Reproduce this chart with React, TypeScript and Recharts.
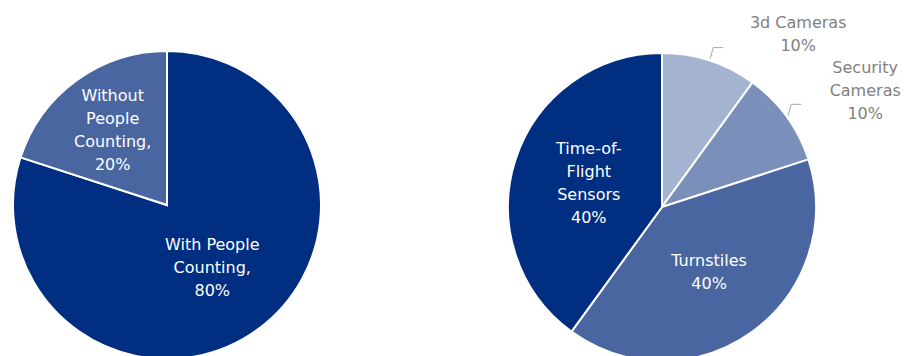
import React from 'react';
import { PieChart, Pie, Cell } from 'recharts';

// left pie: share of sites with / without people counting
const adoptionNames = ['With People Counting', 'Without People Counting'];
const adoptionValues = [80, 20];
const adoptionLines = [['With People', 'Counting,'], ['Without', 'People', 'Counting,']];
const adoptionColors = ['#002E80', '#4A66A0'];

// right pie: counting technology split
const techNames = ['3d Cameras', 'Security Cameras', 'Turnstiles', 'Time-of-Flight Sensors'];
const techValues = [10, 10, 40, 40];
const techLines = [['3d Cameras'], ['Security', 'Cameras'], ['Turnstiles'], ['Time-of-', 'Flight', 'Sensors']];
const techColors = ['#A4B3D0', '#7A8FBA', '#4A66A0', '#002E80'];

const adoptionData = adoptionNames.map((name, i) => ({ name, value: adoptionValues[i], lines: [...adoptionLines[i], `${adoptionValues[i]}%`] }));
const techData = techNames.map((name, i) => ({ name, value: techValues[i], lines: [...techLines[i], `${techValues[i]}%`] }));

// label placement: inside slices use a radius ratio, outside ones get an elbow leader + offset
const labelPlacement: Record<string, { r?: number; dx?: number; dy?: number }> = {
  'With People Counting': { r: 0.5 },
  'Without People Counting': { r: 0.6 },
  'Turnstiles': { r: 0.52 },
  'Time-of-Flight Sensors': { r: 0.5 },
  '3d Cameras': { dx: 88, dy: -25 },
  'Security Cameras': { dx: 77, dy: -25 },
};

const RADIAN = Math.PI / 180;
const FONT = '"DejaVu Sans", Verdana, sans-serif';
const LINE_H = 23;

const renderLabel = (props: any) => {
  const { cx, cy, midAngle, outerRadius, payload, name } = props;
  const key = payload?.name ?? name;
  const lines: string[] = payload?.lines ?? [];
  const place = labelPlacement[key] || { r: 0.5 };
  const cos = Math.cos(-midAngle * RADIAN);
  const sin = Math.sin(-midAngle * RADIAN);

  if (place.r !== undefined) {
    const x = cx + outerRadius * place.r * cos;
    const y = cy + outerRadius * place.r * sin;
    const top = y - ((lines.length - 1) * LINE_H) / 2;
    return (
      <g>
        {lines.map((t, i) => (
          <text key={i} x={x} y={top + i * LINE_H} fill="#fff" textAnchor="middle" dominantBaseline="central" fontSize={16} fontFamily={FONT}>
            {t}
          </text>
        ))}
      </g>
    );
  }

  const x0 = cx + (outerRadius + 2) * cos;
  const y0 = cy + (outerRadius + 2) * sin;
  const tx = x0 + (place.dx || 0);
  const ty = y0 + (place.dy || 0);
  const top = ty - ((lines.length - 1) * LINE_H) / 2;
  return (
    <g>
      <polyline points={`${x0},${y0} ${x0 + 3},${y0 - 11} ${x0 + 13},${y0 - 11}`} fill="none" stroke="#A6A6A6" strokeWidth={1} />
      {lines.map((t, i) => (
        <text key={i} x={tx} y={top + i * LINE_H} fill="#7F7F7F" textAnchor="middle" dominantBaseline="central" fontSize={16} fontFamily={FONT}>
          {t}
        </text>
      ))}
    </g>
  );
};

export default function App() {
  return (
    <div style={{ width: 904, height: 356 }}>
      {/* drop the default body margin so chart coordinates match page pixels */}
      <style>{'body{margin:0}'}</style>
      <PieChart width={904} height={356} margin={{ top: 0, right: 0, bottom: 0, left: 0 }}>
        <Pie
          data={adoptionData}
          dataKey="value"
          nameKey="name"
          cx={167}
          cy={205}
          outerRadius={154}
          startAngle={90}
          endAngle={-270}
          stroke="#fff"
          strokeWidth={2}
          label={renderLabel}
          labelLine={false}
          isAnimationActive={false}
        >
          {adoptionData.map((d, i) => (
            <Cell key={d.name} fill={adoptionColors[i]} />
          ))}
        </Pie>
        <Pie
          data={techData}
          dataKey="value"
          nameKey="name"
          cx={662}
          cy={207}
          outerRadius={154}
          startAngle={90}
          endAngle={-270}
          stroke="#fff"
          strokeWidth={2}
          label={renderLabel}
          labelLine={false}
          isAnimationActive={false}
        >
          {techData.map((d, i) => (
            <Cell key={d.name} fill={techColors[i]} />
          ))}
        </Pie>
      </PieChart>
    </div>
  );
}
